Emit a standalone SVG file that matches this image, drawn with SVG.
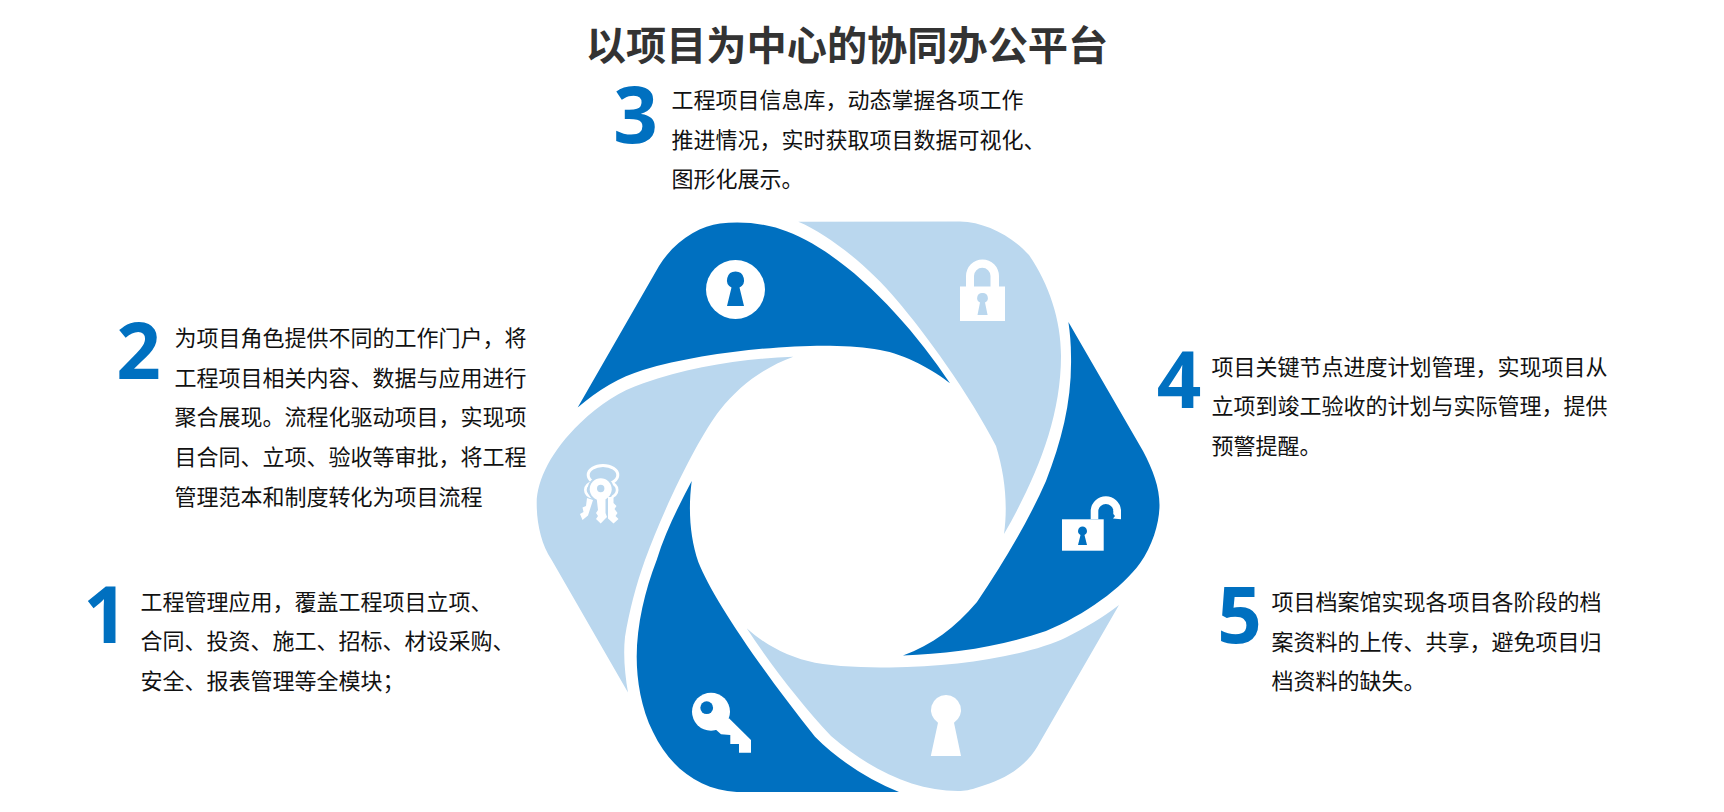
<svg xmlns="http://www.w3.org/2000/svg" width="1724" height="812" viewBox="0 0 1724 812">
<style>
.t{font-family:"Noto Sans CJK SC","Liberation Sans",sans-serif;font-size:22px;fill:#111}
.n{font-family:"Open Sans","Liberation Sans",sans-serif;font-size:78px;font-weight:700;fill:#0070c0;text-anchor:middle}
.d{fill:#0070c0}.l{fill:#bad7ee}.w{fill:#fff}
.k{fill:none;stroke:#fff;stroke-width:3}
</style>
<rect width="1724" height="812" fill="#fff"/>
<g id="title"><text x="847" y="60" font-family="'Noto Sans CJK SC',sans-serif" font-size="40.2" font-weight="700" fill="#333" text-anchor="middle">以项目为中心的协同办公平台</text></g>
<g id="petal-top-left">
<path class="d" d="M577.7,407.5 L659,266 C675,240 700,226 720,223.5 C740,221 762,223 780,229 C842,249 908,320 950,383.3 C935,371 905,354 880,350 C865,347 850,346 830,345.7 C780,345 700,353 643,370 C620,377 598,390 577.7,407.5Z"/>
<circle class="w" cx="735.5" cy="289.5" r="29.5"/>
<path class="d" d="M735.5,271.5 a8.5,8.5 0 0 1 4,16 L744,306 H727 L731.5,287.5 a8.5,8.5 0 0 1 4,-16Z"/>
</g>
<g id="petal-top-right">
<path class="l" d="M798.3,221.7 L960,221.5 C985,222 1012,236 1029,255 C1049,284 1061,320 1061,356 C1061,420 1035,480 1004,534 C1008,505 1005,475 996,446 C970,395 925,333 896.7,300 C870,268 830,235 798.3,221.7Z"/>
<path class="w" fill-rule="evenodd" d="M960,286.6 H966 V276 A16.5,16.5 0 0 1 999,276 V286.6 H1005 V321 H960Z M974,286.6 H990.5 V276 A8.2,8.2 0 0 0 974,276Z"/>
<path class="l" d="M982.5,293 a5,5 0 0 1 2.5,9.5 L987.6,315 H977.5 L980,302.5 a5,5 0 0 1 2.5,-9.5Z"/>
</g>
<g id="petal-right">
<path class="d" d="M1068.4,322 L1143,451 C1153,470 1159.5,487 1159.5,505 C1159.5,522 1153,545 1140,563.3 C1122,588 1085,615 1046,631 C1000,647 950,654 903,655.4 C932,645 955,628 977,602 C1002,565 1028,522 1046,481 C1062,440 1072,400 1071,356 C1071,344 1070,333 1068.4,322Z"/>
<rect class="w" x="1062" y="519.3" width="41.7" height="31.4"/>
<path d="M1094.5,519.3 V510.5 A11.4,11.4 0 0 1 1117.2,510.5" fill="none" stroke="#fff" stroke-width="7.6"/>
<polygon class="w" points="1113.3,510 1121,510 1121,519.3 1113,518.5 1115,516 1113.3,514"/>
<path class="d" d="M1082.5,526.5 a4.5,4.5 0 0 1 2,8.5 L1087,545 H1078 L1080.5,535 a4.5,4.5 0 0 1 2,-8.5Z"/>
</g>
<g id="petal-bottom">
<path class="l" d="M1119,605 L1037.7,746 C1025,768 1003,780 979,787 C970,790 965,791 958,791 C915,791 870,770 831,736 C803,706 773,668 746.7,628.3 C765,645 790,658 815,662.7 C835,666.5 865,667.5 890,667.5 C960,667 1030,655 1067,637 C1085,628 1102,618 1119,605Z"/>
<path class="w" d="M946,695 a15,15 0 0 1 8,27.7 L961,756 H930.8 L938,722.7 a15,15 0 0 1 8,-27.7Z"/>
</g>
<g id="petal-bottom-left">
<path class="d" d="M691.7,481 C688,510 690,538 698.3,562 C712,597 760,668 815,736.7 C840,762 870,780 899,792 L736.7,792 C700,790 670,768 653,732 C641,708 636.7,680 636.7,656.7 C636.7,625 645,590 656.7,560 C665,533 678,507 691.7,481Z"/>
<circle class="w" cx="711" cy="711.7" r="19"/>
<polygon class="w" points="729,718.3 751,740 751,752.7 739,752.7 739,744 730.3,744 730.3,735 721,734.3 714,728"/>
<circle class="d" cx="706.7" cy="707.7" r="6.4"/>
</g>
<g id="petal-left">
<path class="l" d="M793.3,356.7 C765,367 740,385 720,410 C700,435 665,505 645,560 C636,585 629,612 625,637 C623,655 625,675 628,692.5 L551.7,560 C541,544 536.7,523 536.7,503.3 C536.7,480 552,450 580,423.3 C600,404 620,391 643.3,383.3 C690,367 740,359 793.3,356.7Z"/>
<ellipse class="k" cx="603" cy="475" rx="14.8" ry="9.5"/>
<circle class="w" cx="592.5" cy="490" r="8.5"/><circle class="l" cx="592.5" cy="490" r="5.8"/>
<circle class="w" cx="610" cy="490" r="8.5"/><circle class="l" cx="610" cy="490" r="5.8"/>
<circle class="l" cx="600.7" cy="489.3" r="13"/>
<circle class="w" cx="600.7" cy="489.3" r="11"/>
<circle class="l" cx="600.7" cy="488.5" r="3.7"/>
<path class="w" d="M596.5,497 H605.5 V513 L607,517 L605,519 L600.7,523.5 L596,519 L598,516 L596,513 L598,510Z"/>
<path class="w" d="M587,498 L593,500 L588,515.5 L582.5,520 L580,514 L583.5,512 L582.5,507.5 L586,506Z"/>
<path class="w" d="M608,497 H613.5 V503 L616.5,506 L614.5,509 L617.5,513 L615.5,516 L618.5,519 L613.5,523.5 L608,518.5Z"/>
</g>
<g id="text-1"><text class="n" x="105.5" y="642.5">1</text>
<text class="t" x="140.5" y="609.5">工程管理应用，覆盖工程项目立项、</text><text class="t" x="140.5" y="649.2">合同、投资、施工、招标、材设采购、</text><text class="t" x="140.5" y="688.9">安全、报表管理等全模块；</text></g>
<g id="text-2"><text class="n" x="138.5" y="379">2</text>
<text class="t" x="174.5" y="346">为项目角色提供不同的工作门户，将</text><text class="t" x="174.5" y="385.7">工程项目相关内容、数据与应用进行</text><text class="t" x="174.5" y="425.4">聚合展现。流程化驱动项目，实现项</text><text class="t" x="174.5" y="465.1">目合同、立项、验收等审批，将工程</text><text class="t" x="174.5" y="504.8">管理范本和制度转化为项目流程</text></g>
<g id="text-3"><text class="n" x="635.5" y="142.5">3</text>
<text class="t" x="671.5" y="108">工程项目信息库，动态掌握各项工作</text><text class="t" x="671.5" y="147.7">推进情况，实时获取项目数据可视化、</text><text class="t" x="671.5" y="187.4">图形化展示。</text></g>
<g id="text-4"><text class="n" x="1179" y="408">4</text>
<text class="t" x="1211.5" y="374.5">项目关键节点进度计划管理，实现项目从</text><text class="t" x="1211.5" y="414.2">立项到竣工验收的计划与实际管理，提供</text><text class="t" x="1211.5" y="453.9">预警提醒。</text></g>
<g id="text-5"><text class="n" x="1239.5" y="642.5">5</text>
<text class="t" x="1271.5" y="610">项目档案馆实现各项目各阶段的档</text><text class="t" x="1271.5" y="649.7">案资料的上传、共享，避免项目归</text><text class="t" x="1271.5" y="689.4">档资料的缺失。</text></g>
</svg>
